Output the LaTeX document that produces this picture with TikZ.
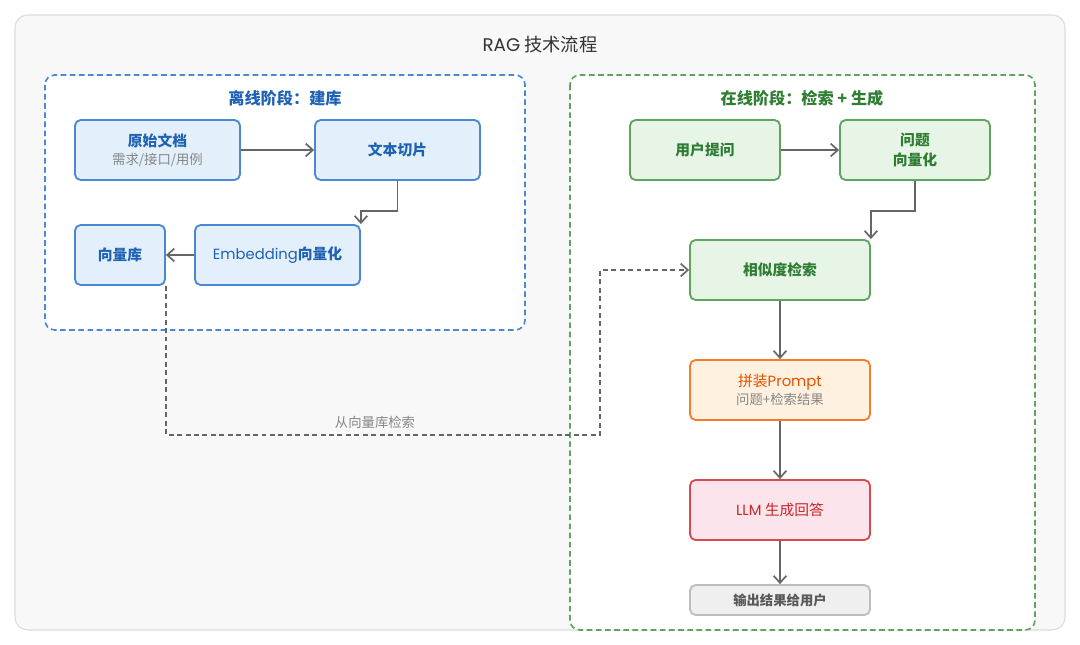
\documentclass[tikz,border=0pt]{standalone}
\usepackage{fontspec}
\setmainfont{Noto Sans CJK SC}
\newfontfamily\lat{Poppins}
\usetikzlibrary{arrows.meta}
\definecolor{panelbg}{HTML}{F8F8F8}
\definecolor{panelln}{HTML}{DDDDDD}
\definecolor{blueln}{HTML}{4A88D4}
\definecolor{bluefl}{HTML}{E3F0FC}
\definecolor{bluetx}{HTML}{1E62B4}
\definecolor{greenln}{HTML}{5FA35F}
\definecolor{greenfl}{HTML}{E7F5E7}
\definecolor{greentx}{HTML}{2E7D32}
\definecolor{orangeln}{HTML}{F27D32}
\definecolor{orangefl}{HTML}{FFF1DF}
\definecolor{orangetx}{HTML}{E65100}
\definecolor{redln}{HTML}{D64B4B}
\definecolor{redfl}{HTML}{FCE4EC}
\definecolor{redtx}{HTML}{C62828}
\definecolor{grayln}{HTML}{BDBDBD}
\definecolor{grayfl}{HTML}{EFEFEF}
\definecolor{graytx}{HTML}{868686}
\definecolor{arrowc}{HTML}{666666}
\newcommand{\subline}[1]{{\color{graytx}\fontsize{9.5}{11}\selectfont\mdseries #1}}
\tikzset{
  box/.style={draw, line width=1.3pt, rounded corners=4pt, align=center,
    inner sep=0pt, minimum height=1.5cm},
  bluebox/.style={box, draw=blueln, fill=bluefl, text=bluetx, font=\fontsize{10.5}{14}\selectfont\bfseries},
  greenbox/.style={box, draw=greenln, fill=greenfl, text=greentx, font=\fontsize{10.5}{14}\selectfont\bfseries},
  arr/.style={draw=arrowc, line width=1.2pt, -{Straight Barb[length=5pt,width=9pt,line width=1.2pt]}},
  cluster/.style={line width=1.2pt, dash pattern=on 4pt off 2.5pt, rounded corners=7pt, fill=white}
}
\begin{document}
\begin{tikzpicture}[x=0.025cm,y=-0.025cm]
  \useasboundingbox (0,0) rectangle (1080,645);
  % Sfondo
  \draw [panelln, fill=panelbg, line width=0.8pt, rounded corners=9pt] (15,15) rectangle (1065,630);
  \node [text=black!80, font=\fontsize{13}{15}\selectfont] (title) at (540,45) {{\lat RAG} 技术流程};
  % Gruppi
  \draw [cluster, draw=blueln] (45,75) rectangle (525,330);
  \draw [cluster, draw=greenln] (570,75) rectangle (1035,630);
  \node [text=bluetx, font=\fontsize{11.5}{14}\selectfont\bfseries] (offline) at (285,98) {离线阶段：建库};
  \node [text=greentx, font=\fontsize{11.5}{14}\selectfont\bfseries] (online) at (802,98) {在线阶段：检索 + 生成};
  % Nodi offline
  \node [bluebox, minimum width=4.125cm] (doc) at (157.5,150) {原始文档\\[-1pt]\subline{需求/接口/用例}};
  \node [bluebox, minimum width=4.125cm] (chunk) at (397.5,150) {文本切片};
  \node [bluebox, minimum width=4.125cm, font=\fontsize{10.5}{14}\selectfont] (emb) at (277.5,255) {{\lat Embedding}\textbf{向量化}};
  \node [bluebox, minimum width=2.25cm] (vdb) at (120,255) {向量库};
  % Nodi online
  \node [greenbox, minimum width=3.75cm] (ask) at (705,150) {用户提问};
  \node [greenbox, minimum width=3.75cm] (qvec) at (915,150) {问题\\向量化};
  \node [greenbox, minimum width=4.5cm] (sim) at (780,270) {相似度检索};
  \node [box, minimum width=4.5cm, draw=orangeln, fill=orangefl, text=orangetx,
    font=\fontsize{10.5}{14}\selectfont] (prompt) at (780,390) {拼装{\lat Prompt}\\[-1pt]\subline{问题+检索结果}};
  \node [box, minimum width=4.5cm, draw=redln, fill=redfl, text=redtx,
    font=\fontsize{10.5}{14}\selectfont] (llm) at (780,510) {{\lat LLM} 生成回答};
  \node [box, minimum width=4.5cm, minimum height=0.75cm, draw=grayln, fill=grayfl, text=black!65,
    font=\fontsize{9.5}{12}\selectfont\bfseries] (out) at (780,600) {输出结果给用户};
  % Frecce
  \draw [arr] (doc) -- (chunk);
  \draw [arr] (chunk.south) -- ++(0,30) -| (emb.north east);
  \draw [arr] (emb) -- (vdb);
  \draw [arr] (ask) -- (qvec);
  \draw [arr] (qvec.south) -- ++(0,30) -| (sim.north east);
  \draw [arr] (sim) -- (prompt);
  \draw [arr] (prompt) -- (llm);
  \draw [arr] (llm) -- (out);
  \coordinate (turn) at (600,435);
  \draw [arr, line width=1pt, dash pattern=on 3.5pt off 2.5pt] (vdb.south east) |- (turn) |- (sim.west);
  \node [text=graytx, font=\fontsize{9.5}{12}\selectfont] (lblq) at (375,422) {从向量库检索};
\end{tikzpicture}
\end{document}
